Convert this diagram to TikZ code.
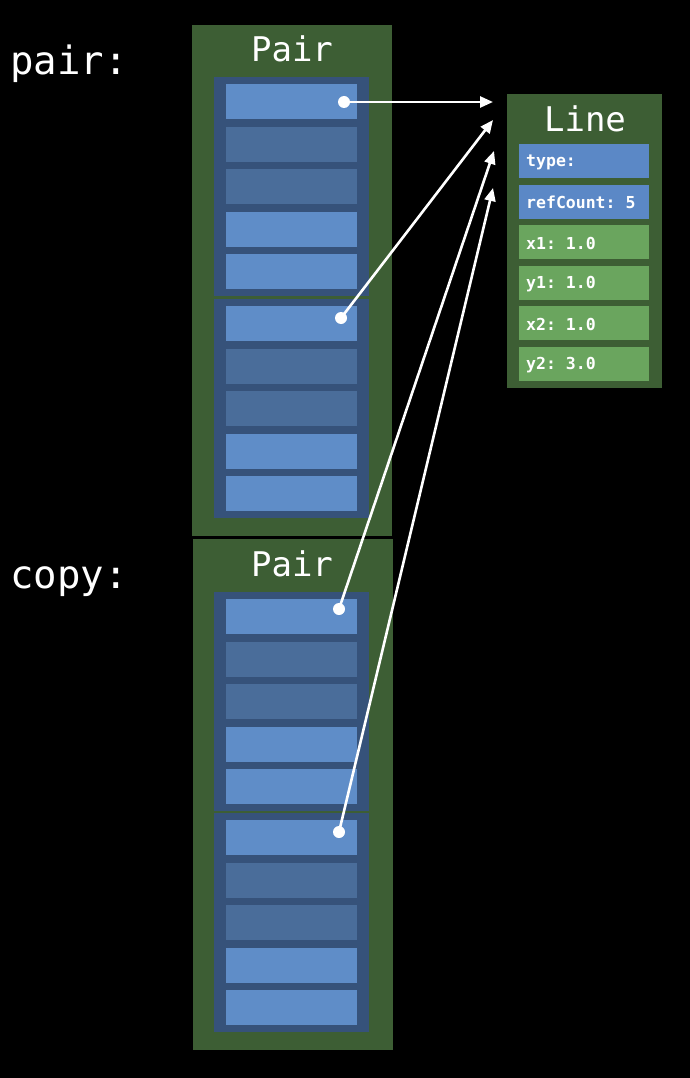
\documentclass[tikz,border=0pt]{standalone}
\usepackage{fontspec}
\setmonofont{DejaVu Sans Mono}
\usetikzlibrary{arrows.meta}
\definecolor{pairgreen}{HTML}{3D5E34}
\definecolor{grpblue}{HTML}{36527A}
\definecolor{slotlight}{HTML}{5F8DC8}
\definecolor{slotdark}{HTML}{4A6D9A}
\definecolor{fieldblue}{HTML}{5B88C6}
\definecolor{fieldgreen}{HTML}{6AA55E}
\tikzset{
  box/.style={fill=pairgreen, draw=none, inner sep=0pt, anchor=north west},
  grp/.style={fill=grpblue, draw=none, inner sep=0pt, anchor=north west, minimum width=155pt},
  slot/.style={draw=none, inner sep=0pt, anchor=north west, minimum width=131pt, minimum height=35pt},
  field/.style={draw=none, inner sep=0pt, anchor=north west, minimum width=130pt, minimum height=34pt},
  ftext/.style={text=white, anchor=west, inner sep=0pt, font=\ttfamily\bfseries\fontsize{16.5}{16.5}\selectfont},
  title/.style={text=white, anchor=base, inner sep=0pt, font=\ttfamily\fontsize{34}{34}\selectfont},
  varlabel/.style={text=white, anchor=base west, inner sep=0pt, font=\ttfamily\fontsize{39}{39}\selectfont},
  dot/.style={circle, fill=white, inner sep=0pt, minimum size=12pt},
  arr/.style={draw=white, line width=2.6pt, -{Triangle[length=13pt,width=11pt]}}
}
\begin{document}
\begin{tikzpicture}[x=1pt,y=-1pt]
\fill[black] (0,0) rectangle (690,1078);
\useasboundingbox (0,0) rectangle (690,1078);

% labels
\node[varlabel] (lpair) at (10,75) {pair:};
\node[varlabel] (lcopy) at (10,588) {copy:};

% Pair boxes
\node[box, minimum width=200pt, minimum height=511pt] (pair1) at (192,25) {};
\node[title] (pt1) at (292,62) {Pair};
\node[box, minimum width=200pt, minimum height=511pt] (pair2) at (193,539) {};
\node[title] (pt2) at (292,576) {Pair};

% groups and slots
\foreach \g/\gx/\gy in {a/214/77, b/214/299, c/214/592, d/214/813}{
  \node[grp, minimum height=219pt] (grp\g) at (\gx,\gy) {};
  \foreach \i/\off/\col in {1/7/slotlight, 2/49.5/slotdark, 3/92/slotdark, 4/134.5/slotlight, 5/177/slotlight}{
    \node[slot, fill=\col] (slot\g\i) at (\gx+12,\gy+\off) {};
  }
}

% Line object
\node[box, minimum width=155pt, minimum height=294pt] (line) at (507,94) {};
\node[title] (lt) at (585,132) {Line};
\foreach \i/\y/\col/\txt in {1/144/fieldblue/type:, 2/184.5/fieldblue/refCount: 5, 3/225/fieldgreen/x1: 1.0, 4/265.5/fieldgreen/y1: 1.0, 5/306/fieldgreen/x2: 1.0, 6/346.5/fieldgreen/y2: 3.0}{
  \node[field, fill=\col] (f\i) at (519,\y) {};
  \node[ftext] (ft\i) at ([xshift=7pt,yshift=-1pt]f\i.west) {\txt};
}

% pointers
\node[dot] (d1) at (344,102) {};
\node[dot] (d2) at (341,318) {};
\node[dot] (d3) at (339,609) {};
\node[dot] (d4) at (339,832) {};
\coordinate (e1) at (493,102);
\coordinate (e2) at (493,120);
\coordinate (e3) at (494,151);
\coordinate (e4) at (493,188);
\draw[arr] (d1.center) -- (e1);
\draw[arr] (d2.center) -- (e2);
\draw[arr] (d3.center) -- (e3);
\draw[arr] (d4.center) -- (e4);
\end{tikzpicture}
\end{document}
